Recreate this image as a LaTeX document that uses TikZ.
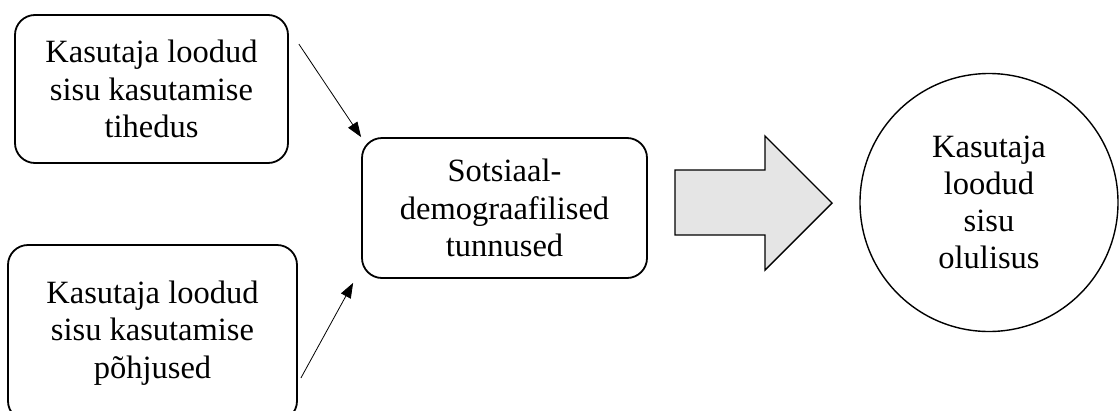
\documentclass[tikz,border=0pt]{standalone}
\usepackage{fontspec}
\setmainfont{Liberation Serif}
\usepackage{tikz}
\usetikzlibrary{arrows.meta,positioning}

\begin{document}
\begin{tikzpicture}[
  x=1pt, y=-1pt,
  box/.style={draw, line width=1.8pt, rounded corners=20pt, align=center, inner sep=0pt,
    font=\fontsize{32.5}{37.5}\selectfont},
  arrow/.style={-{Triangle[length=15pt,width=11pt]}, line width=0.8pt},
  bigarrow/.style={draw, line width=1.4pt, fill=black!10}
]
\useasboundingbox (0,0) rectangle (1119,410);
\node[box, minimum width=273pt, minimum height=148pt] (use) at (151.5,89) {Kasutaja loodud\\sisu kasutamise\\tihedus};
\node[box, minimum width=289pt, minimum height=176pt] (why) at (152.5,333) {Kasutaja loodud\\sisu kasutamise\\põhjused};
\node[box, minimum width=285pt, minimum height=140pt] (socio) at (504.5,208) {Sotsiaal-\\demograafilised\\tunnused};
\node[circle, draw, line width=1.4pt, minimum size=258pt, inner sep=0pt, align=center,
  font=\fontsize{32.5}{37}\selectfont] (imp) at (989,202.5) {Kasutaja\\loodud\\sisu\\olulisus};
\draw[arrow] ([xshift=10pt,yshift=-30pt]use.north east) -- (socio.north west);
\draw[arrow] ([xshift=3pt,yshift=-45pt]why.east) -- ([xshift=-8pt,yshift=-4pt]socio.south west);
% block arrow between the middle box and the circle
\draw[bigarrow] (675,170) -- (765,170) -- (765,136) -- (832,203) -- (765,270) -- (765,235) -- (675,235) -- cycle;
\end{tikzpicture}
\end{document}
